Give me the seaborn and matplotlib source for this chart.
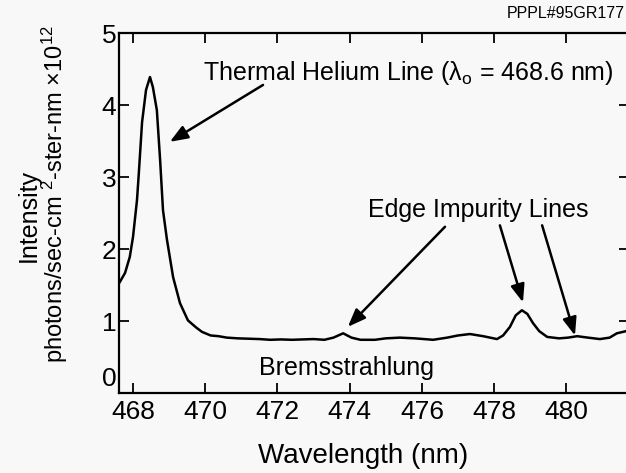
import matplotlib
matplotlib.use("Agg")
import matplotlib.pyplot as plt
import matplotlib.transforms as mtransforms
import seaborn as sns
import pandas as pd

wavelength = [467.62, 467.78, 467.91, 468.00, 468.11, 468.16, 468.25, 468.36, 468.47, 468.55,
              468.66, 468.75, 468.83, 468.94, 469.11, 469.30, 469.52, 469.75, 469.91, 470.15,
              470.37, 470.6, 470.9, 471.2, 471.5, 471.8, 472.1, 472.4, 472.7, 473.0,
              473.3, 473.55, 473.82, 474.05, 474.3, 474.7, 475.0, 475.39, 475.8, 476.31,
              476.7, 477.0, 477.33, 477.7, 478.08, 478.25, 478.44, 478.6, 478.77, 478.92,
              479.08, 479.25, 479.47, 479.8, 480.05, 480.30, 480.6, 480.93, 481.2, 481.40, 481.74]
intensity = [1.53, 1.67, 1.89, 2.17, 2.68, 3.05, 3.76, 4.21, 4.39, 4.25,
             3.93, 3.24, 2.54, 2.13, 1.61, 1.25, 1.01, 0.91, 0.85, 0.80,
             0.79, 0.77, 0.76, 0.755, 0.75, 0.74, 0.745, 0.74, 0.745, 0.75,
             0.74, 0.77, 0.83, 0.77, 0.74, 0.74, 0.76, 0.77, 0.76, 0.74,
             0.77, 0.80, 0.82, 0.79, 0.75, 0.80, 0.92, 1.08, 1.15, 1.10,
             0.97, 0.86, 0.78, 0.76, 0.77, 0.79, 0.77, 0.75, 0.77, 0.83, 0.87]
x_ticks = [468, 470, 472, 474, 476, 478, 480]
y_ticks = [0, 1, 2, 3, 4, 5]

df = pd.DataFrame({"Wavelength": wavelength, "Intensity": intensity})

sns.set_theme(style="ticks")
plt.rcParams["font.family"] = ["Liberation Sans", "DejaVu Sans"]
plt.rcParams["mathtext.fontset"] = "custom"
plt.rcParams["mathtext.rm"] = "Liberation Sans"
plt.rcParams["mathtext.it"] = "Liberation Sans:italic"
plt.rcParams["mathtext.bf"] = "Liberation Sans:bold"
plt.rcParams["text.color"] = "black"
plt.rcParams["xtick.color"] = "black"
plt.rcParams["ytick.color"] = "black"
plt.rcParams["xtick.labelcolor"] = "black"
plt.rcParams["ytick.labelcolor"] = "black"

bg = "#f8f8f8"
fig = plt.figure(figsize=(6.26, 4.73), dpi=100, facecolor=bg)
ax = fig.add_axes([0.190, 0.169, 0.815, 0.761], facecolor=bg)

sns.lineplot(data=df, x="Wavelength", y="Intensity", ax=ax, color="black", lw=1.8, sort=False)

ax.set_xlim(467.61, 481.74)
ax.set_ylim(0, 5)
ax.set_xticks(x_ticks)
ax.set_yticks(y_ticks)
ax.set_xticklabels([str(v) for v in x_ticks], fontsize=19)
ax.set_yticklabels([str(v) for v in y_ticks], fontsize=19)
ax.tick_params(direction="in", length=7, width=1.3, top=True, right=True, colors="black")
ax.tick_params(axis="x", pad=5)
ax.tick_params(axis="y", pad=2)
for s in ax.spines.values():
    s.set_linewidth(1.6)
    s.set_color("black")
    s.set_visible(True)
ax.set_xlabel("")
ax.set_ylabel("")

# raise the "0" label a little, as in the reference, so it clears "468"
zero_lbl = ax.get_yticklabels()[0]
zero_lbl.set_transform(zero_lbl.get_transform() +
                       mtransforms.ScaledTranslation(0, 12 / 72, fig.dpi_scale_trans))

fig.text(0.58, 0.035, "Wavelength (nm)", ha="center", va="center", fontsize=20)
fig.text(0.046, 0.545, "Intensity", rotation=90, ha="center", va="center", fontsize=18)
fig.text(0.088, 0.59, r"photons/sec-cm $^{2}$-ster-nm $\times$10$^{12}$", rotation=90,
         ha="center", va="center", fontsize=17)
fig.text(0.998, 0.972, "PPPL#95GR177", ha="right", va="center", fontsize=11.5)

ax.text(473.91, 0.35, "Bremsstrahlung", ha="center", va="center", fontsize=18)

arrow = dict(arrowstyle="-|>,head_length=0.9,head_width=0.35", color="black", lw=1.8,
             shrinkA=0, shrinkB=0)
ax.text(475.62, 4.44, "Thermal Helium Line (λ$_{\\rm o}$ = 468.6 nm)",
        ha="center", va="center", fontsize=18)
ax.annotate("", xy=(469.02, 3.49), xytext=(471.60, 4.28), arrowprops=arrow)

ax.text(477.57, 2.54, "Edge Impurity Lines", ha="center", va="center", fontsize=18)
ax.annotate("", xy=(473.95, 0.92), xytext=(476.64, 2.31), arrowprops=arrow)
ax.annotate("", xy=(478.80, 1.26), xytext=(478.16, 2.33), arrowprops=arrow)
ax.annotate("", xy=(480.24, 0.80), xytext=(479.33, 2.33), arrowprops=arrow)

fig.savefig("out.png", dpi=100, facecolor=bg)
